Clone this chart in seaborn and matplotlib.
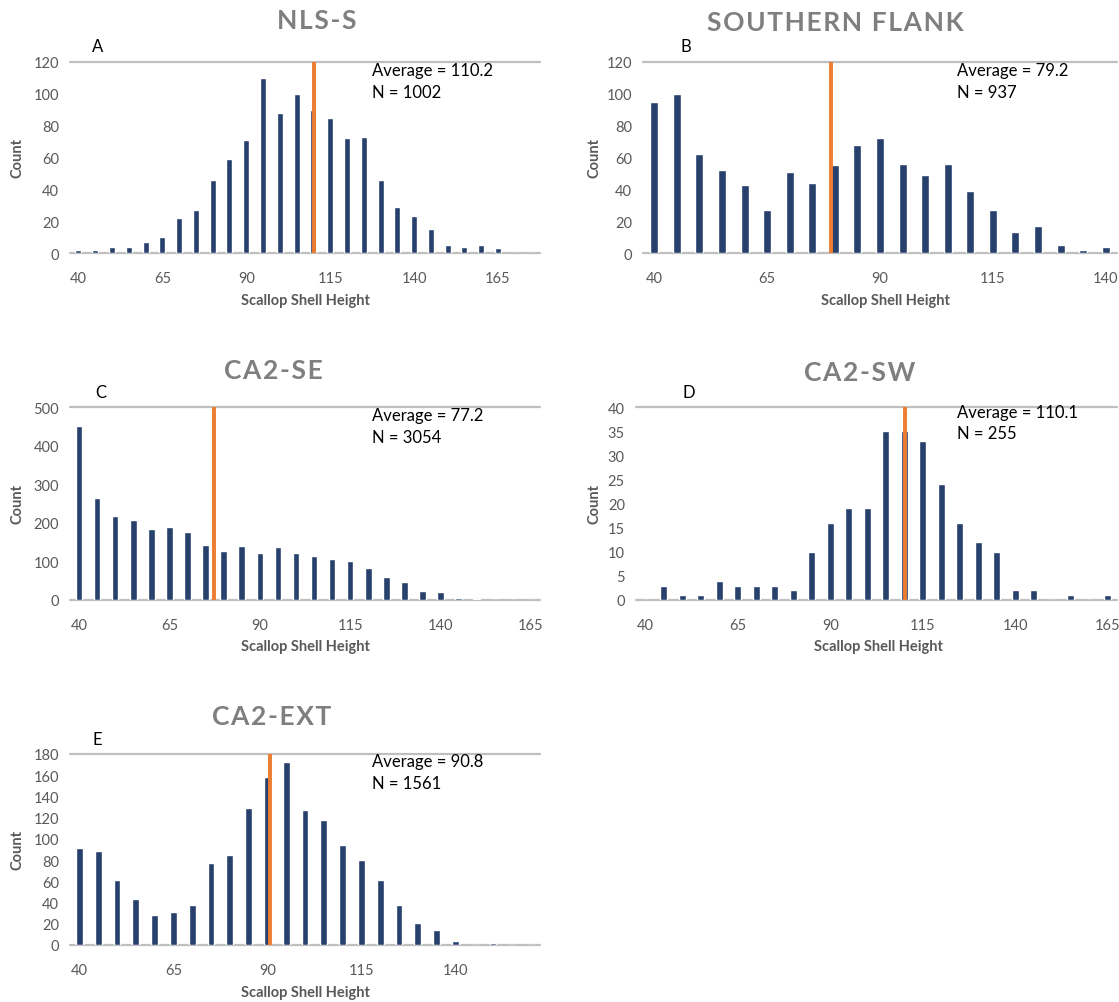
import matplotlib
matplotlib.use('Agg')
import matplotlib.pyplot as plt
import seaborn as sns
import pandas as pd

sns.set_style('white')
plt.rcParams['font.family'] = ['Lato', 'DejaVu Sans']

# date: clase de inaltime (pas 5 mm) si numar de scoici
heights_a = list(range(40, 180, 5))
counts_a = [2, 2, 4, 4, 7, 10, 22, 27, 46, 59, 71, 110, 88, 100, 90, 85, 72, 73,
            46, 29, 23, 15, 5, 4, 5, 3, 0, 0]

heights_b = list(range(40, 145, 5))
counts_b = [95, 100, 62, 52, 43, 27, 51, 44, 55, 68, 72, 56, 49, 56, 39, 27, 13,
            17, 5, 2, 4]

heights_c = list(range(40, 170, 5))
counts_c = [452, 265, 217, 208, 185, 190, 177, 143, 127, 141, 121, 137, 123, 114,
            105, 101, 84, 60, 46, 24, 22, 5, 3, 0, 0, 0]

heights_d = list(range(40, 170, 5))
counts_d = [0, 3, 1, 1, 4, 3, 3, 3, 2, 10, 16, 19, 19, 35, 35, 33, 24, 16, 12,
            10, 2, 2, 0, 1, 0, 1]

heights_e = list(range(40, 165, 5))
counts_e = [91, 89, 61, 43, 28, 31, 38, 77, 85, 129, 158, 172, 127, 118, 94, 80,
            61, 38, 21, 14, 4, 0, 2, 0, 0]

titles = ['NLS-S', 'SOUTHERN FLANK', 'CA2-SE', 'CA2-SW', 'CA2-EXT']
letters = ['A', 'B', 'C', 'D', 'E']
averages = [110.2, 79.2, 77.2, 110.1, 90.8]
totals = [1002, 937, 3054, 255, 1561]
y_max = [120, 120, 500, 40, 180]
y_step = [20, 20, 100, 5, 20]

BAR = '#27406c'
ORANGE = '#ed7d31'
GRID = '#bfbfbf'
GRAY_TXT = '#595959'
TITLE_GRAY = '#7f7f7f'

W, H = 1119, 1003
fig = plt.figure(figsize=(W / 100, H / 100), dpi=100)

# pozitia fiecarui panou in pixeli: stanga, dreapta, sus, jos
boxes = [(70, 540, 63, 254), (643, 1117, 63, 254),
         (70, 540, 408, 601), (636, 1117, 408, 601),
         (70, 540, 755, 946)]
# centrele titlurilor si textul "Average" (x in pixeli)
title_pos = [(317, 21), (835, 23), (273, 371), (860, 373), (272, 717)]
avg_x = [372, 957, 372, 957, 372]
avg_y = [(71, 93), (71, 93), (416, 438), (413, 434), (762, 784)]
letter_pos = [(92, 47), (680, 47), (95, 393), (683, 393), (92, 740)]
count_x = [18, 595, 18, 595, 18]
xlabel_pos = [(305, 301), (885, 301), (305, 647), (878, 647), (305, 993)]

panels = [(heights_a, counts_a), (heights_b, counts_b), (heights_c, counts_c),
          (heights_d, counts_d), (heights_e, counts_e)]


def spaced(s):
    # titlurile din original au litere rasfirate
    return '\u200a'.join(s)


for i, (hts, cnts) in enumerate(panels):
    l, r, t, b = boxes[i]
    ax = fig.add_axes([l / W, 1 - b / H, (r - l) / W, (b - t) / H])
    df = pd.DataFrame({'height': [str(h) for h in hts], 'count': cnts})
    sns.barplot(data=df, x='height', y='count', color=BAR, width=0.36,
                saturation=1, ax=ax, errorbar=None)

    n = len(hts)
    ax.set_xlim(-0.5, n - 0.5)
    ax.set_ylim(0, y_max[i])
    ax.set_yticks(range(0, y_max[i] + 1, y_step[i]))
    ax.set_xticks(range(0, n, 5))
    ax.set_xticklabels([str(h) for h in hts[::5]])
    ax.tick_params(axis='both', length=0, labelsize=10.5, labelcolor=GRAY_TXT)
    ax.tick_params(axis='x', pad=13)
    ax.tick_params(axis='y', pad=8)
    ax.set_xlabel('')
    ax.set_ylabel('')
    for s in ax.spines.values():
        s.set_visible(False)

    # linia de sus si axa de jos
    ax.axhline(y_max[i], color=GRID, lw=1.6, zorder=0, clip_on=False)
    ax.axhline(0, color=GRID, lw=1.6, zorder=0, clip_on=False)

    # linia portocalie pentru medie, pe scala de categorii
    pos = (averages[i] - hts[0]) / 5
    ax.plot([pos, pos], [0, y_max[i]], color=ORANGE, lw=2.8, zorder=3)

    fig.text(avg_x[i] / W, 1 - avg_y[i][0] / H, f'Average = {averages[i]}',
             fontsize=12, va='center', ha='left', color='black')
    fig.text(avg_x[i] / W, 1 - avg_y[i][1] / H, f'N = {totals[i]}',
             fontsize=12, va='center', ha='left', color='black')

    fig.text(letter_pos[i][0] / W, 1 - letter_pos[i][1] / H, letters[i],
             fontsize=12, va='center', ha='left', color='black')
    fig.text(title_pos[i][0] / W, 1 - title_pos[i][1] / H, spaced(titles[i]),
             fontsize=19, fontweight='bold', va='center', ha='center',
             color=TITLE_GRAY)
    fig.text(count_x[i] / W, 1 - (t + b) / 2 / H, 'Count', rotation=90,
             fontsize=10.5, fontweight='bold', va='center', ha='center',
             color=GRAY_TXT)
    fig.text(xlabel_pos[i][0] / W, 1 - xlabel_pos[i][1] / H,
             'Scallop Shell Height', fontsize=10.5, fontweight='bold',
             va='center', ha='center', color=GRAY_TXT)

fig.savefig('out.png', dpi=100)
